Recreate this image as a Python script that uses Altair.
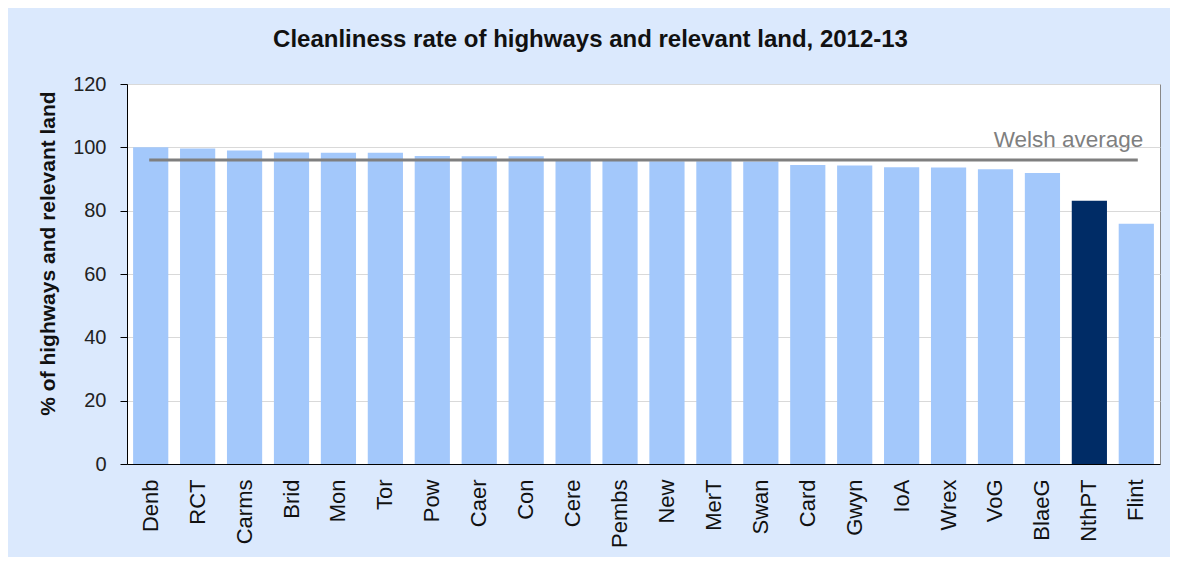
import altair as alt
import pandas as pd

categories = ["Denb", "RCT", "Carms", "Brid", "Mon", "Tor", "Pow", "Caer", "Con", "Cere",
              "Pembs", "New", "MerT", "Swan", "Card", "Gwyn", "IoA", "Wrex", "VoG", "BlaeG",
              "NthPT", "Flint"]
values = [100.0, 99.6, 99.0, 98.4, 98.3, 98.3, 97.3, 97.2, 97.2, 96.0,
          95.9, 95.6, 95.6, 95.5, 94.4, 94.3, 93.7, 93.6, 93.1, 91.9,
          83.1, 75.9]
highlight = ["NthPT"]
welsh_average = 96.0
avg_label = "Welsh average"
y_ticks = [0, 20, 40, 60, 80, 100, 120]

df = pd.DataFrame({
    "cat": categories,
    "val": values,
    "hl": ["yes" if c in highlight else "no" for c in categories],
})
avg_df = pd.DataFrame({"cat": categories, "avg": [welsh_average] * len(categories)})
lab_df = pd.DataFrame({"cat": [categories[-1]], "avg": [welsh_average], "label": [avg_label]})

FONT = "Liberation Sans"

x_enc = alt.X(
    "cat:N", sort=categories, title=None,
    scale=alt.Scale(paddingInner=0.25, paddingOuter=0.13),
    axis=alt.Axis(labelAngle=270, labelAlign="right", labelBaseline="middle",
                  labelFontSize=22, labelFont=FONT, labelColor="#111111",
                  labelPadding=15, ticks=False, domainColor="#000000",
                  domainWidth=1, grid=False),
)

y_scale = alt.Scale(domain=[0, 120], nice=False)
y_axis = alt.Axis(values=y_ticks, tickSize=7, tickColor="#000000", domainColor="#000000",
                  labelFontSize=20, labelFont=FONT, labelColor="#222222", labelPadding=14,
                  grid=True, gridColor="#d9d9d9", gridWidth=1,
                  titleFontSize=21, titleFontWeight="bold", titleFont=FONT,
                  titleColor="#111111", titleAngle=270, titleAlign="center",
                  titleBaseline="middle", titleX=-79, titleY=169)

bars = alt.Chart(df).mark_bar().encode(
    x=x_enc,
    y=alt.Y("val:Q", title="% of highways and relevant land", scale=y_scale, axis=y_axis),
    color=alt.condition(alt.datum.hl == "yes", alt.value("#002c66"), alt.value("#a3c8fb")),
)

line = alt.Chart(avg_df).mark_line(color="#7f7f7f", strokeWidth=3, strokeCap="square").encode(
    x=alt.X("cat:N", sort=categories),
    y=alt.Y("avg:Q", scale=y_scale),
)

label = alt.Chart(lab_df).mark_text(align="right", baseline="alphabetic", dx=7, dy=-13,
                                    fontSize=22.5, font=FONT, color="#7f7f7f").encode(
    x=alt.X("cat:N", sort=categories),
    y=alt.Y("avg:Q", scale=y_scale),
    text="label:N",
)

chart = alt.layer(bars, line, label).properties(
    width=1033,
    height=380,
    title=alt.TitleParams("Cleanliness rate of highways and relevant land, 2012-13",
                          fontSize=24, fontWeight="bold", font=FONT, color="#111111",
                          anchor="middle", dx=-53, offset=22),
    background="#dbe9fd",
    autosize=alt.AutoSizeParams(type="none"),
    padding={"left": 119, "top": 76, "right": 10, "bottom": 93},
).configure_view(
    fill="#ffffff", stroke="#888888", strokeWidth=1,
)

chart.save("out.html", embed_options={"renderer": "svg", "actions": False})
